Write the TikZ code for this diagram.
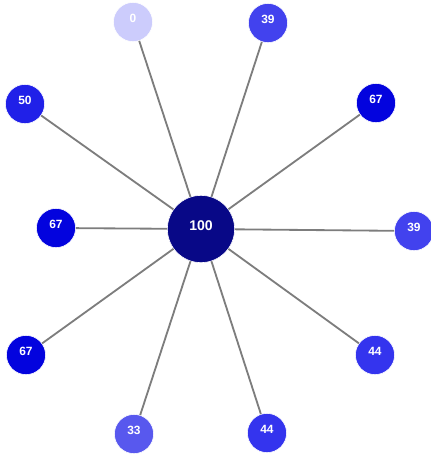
\documentclass[tikz,border=0pt]{standalone}
\usepackage{fontspec}
\setmainfont{Liberation Sans}
\usepackage{tikz}
\usetikzlibrary{positioning}
\definecolor{hubnavy}{RGB}{8,8,135}
\definecolor{w67}{RGB}{3,3,222}
\definecolor{w50}{RGB}{32,32,232}
\definecolor{w44}{RGB}{52,52,238}
\definecolor{w39}{RGB}{66,66,238}
\definecolor{w33}{RGB}{88,88,238}
\definecolor{w00}{RGB}{204,204,252}
\definecolor{spokegray}{RGB}{125,125,125}
\tikzset{
  leaf/.style={circle, draw=white, line width=0.4pt, minimum size=0.98cm, inner sep=0pt,
               text=white, text depth=5pt, font=\fontsize{8.5}{9}\selectfont\bfseries},
  hub/.style={leaf, minimum size=1.68cm, fill=hubnavy, font=\fontsize{10}{11}\selectfont\bfseries},
  spoke/.style={spokegray, line width=1.3pt},
}

\begin{document}
\begin{tikzpicture}[x=0.025cm, y=-0.025cm]
  \useasboundingbox (0,0) rectangle (430,456);
  \node[hub] (h) at (201,229) {100};
  \node[leaf, fill=w00] (n0) at (133,22) {0};
  \node[leaf, fill=w39] (n1) at (268,23) {39};
  \node[leaf, fill=w50] (n2) at (25,104) {50};
  \node[leaf, fill=w67] (n3) at (376,103) {67};
  \node[leaf, fill=w67] (n4) at (56,228) {67};
  \node[leaf, fill=w39] (n5) at (414,231) {39};
  \node[leaf, fill=w67] (n6) at (26,355) {67};
  \node[leaf, fill=w44] (n7) at (375,355) {44};
  \node[leaf, fill=w33] (n8) at (134,434) {33};
  \node[leaf, fill=w44] (n9) at (267,433) {44};
  % spokes from the hub
  \foreach \n in {n0,n1,n2,n3,n4,n5,n6,n7,n8,n9}
    \draw[spoke] (h) -- (\n);
\end{tikzpicture}
\end{document}
